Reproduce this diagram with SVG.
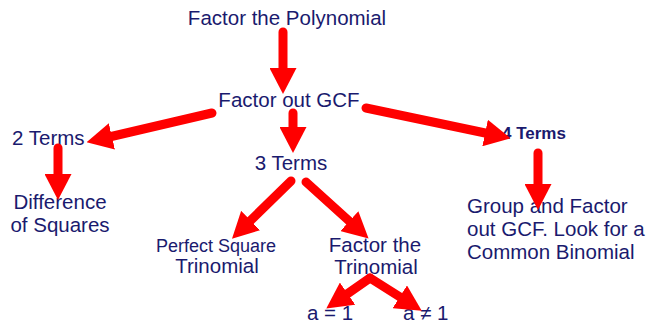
<svg xmlns="http://www.w3.org/2000/svg" width="652" height="325" viewBox="0 0 652 325">
<style>
text{font-family:"Liberation Sans",Arial,sans-serif;font-size:20.5px;fill:#1a1a6e}
.c{text-anchor:middle}
.b{font-weight:bold;font-size:17px}
.s{font-size:18px}
.a{stroke:#ff0000;stroke-width:9;stroke-linecap:round;fill:none;marker-end:url(#h)}
</style>
<defs>
<marker id="h" markerUnits="userSpaceOnUse" markerWidth="26" markerHeight="27" refX="5" refY="13.5" orient="auto">
<path d="M0,0 L26,13.5 L0,27 z" fill="#ff0000"/>
</marker>
</defs>
<rect width="652" height="325" fill="#ffffff"/>
<g id="n-polynomial"><text class="c" x="287" y="25">Factor the Polynomial</text></g>
<g id="n-gcf"><text class="c" x="289" y="107">Factor out GCF</text></g>
<g id="n-2terms"><text x="12" y="145">2 Terms</text></g>
<g id="n-diff"><text class="c" x="60" y="209">Difference</text><text class="c" x="60" y="232">of Squares</text></g>
<g id="n-3terms"><text class="c" x="291" y="170">3 Terms</text></g>
<g id="n-4terms"><text class="b" x="502" y="139">4 Terms</text></g>
<g id="n-group"><text x="467" y="213">Group and Factor</text><text x="467" y="236">out GCF. Look for a</text><text x="467" y="259">Common Binomial</text></g>
<g id="n-pst"><text class="s" x="156" y="252">Perfect Square</text><text class="c" x="217" y="273">Trinomial</text></g>
<g id="n-ftt"><text class="c" x="375" y="252">Factor the</text><text class="c" x="376" y="274">Trinomial</text></g>
<g id="n-a1"><text x="307" y="320">a = 1</text></g>
<g id="n-an1"><text x="403" y="320">a ≠ 1</text></g>
<g id="connectors">
<path class="a" d="M283,32 L283,73"/>
<path class="a" d="M212,113 L107,137.5"/>
<path class="a" d="M58,148 L58,179"/>
<path class="a" d="M293,113 L293,132"/>
<path class="a" d="M366,108 L490,134"/>
<path class="a" d="M538,153 L538,189"/>
<path class="a" d="M291,181 L247,224"/>
<path class="a" d="M306,182 L353,224.5"/>
<path class="a" d="M370,278 L343.5,296.5"/>
<path class="a" d="M370,278 L404,299.5"/>
</g>
</svg>
